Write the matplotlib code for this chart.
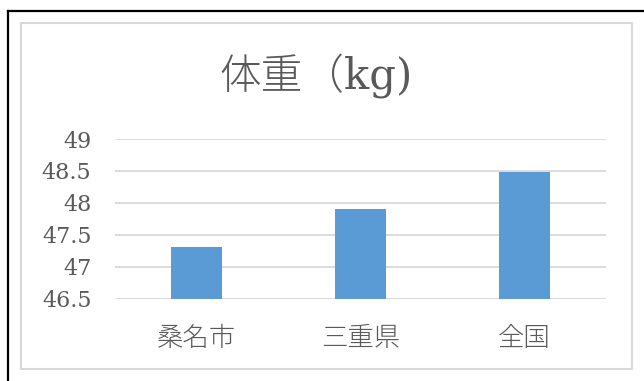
import matplotlib.pyplot as plt
from matplotlib.lines import Line2D
from matplotlib.patches import Rectangle

# Average body weight by region
regions = ["桑名市", "三重県", "全国"]
weights = [47.31, 47.9, 48.48]
y_ticks = [46.5, 47, 47.5, 48, 48.5, 49]

TEXT = "#595959"
GRID = "#D9D9D9"
BAR = "#5B9BD5"
FONTS = ["DejaVu Serif", "Noto Sans CJK JP", "DejaVu Sans"]

plt.rcParams["font.family"] = FONTS

W, H = 644, 381
fig = plt.figure(figsize=(W / 100, H / 100), dpi=100)
fig.patch.set_facecolor("white")

# sheet border (top and left only) and chart-area frame
fig.add_artist(Line2D([7.5 / W, 1.0], [1 - 11 / H, 1 - 11 / H],
                      color="black", lw=1.6, transform=fig.transFigure))
fig.add_artist(Line2D([7.5 / W, 7.5 / W], [0.0, 1 - 11 / H],
                      color="black", lw=1.6, transform=fig.transFigure))
fig.add_artist(Rectangle((21 / W, 1 - 369 / H), (632 - 21) / W, (369 - 23) / H,
                         fill=False, edgecolor=GRID, lw=1.5,
                         transform=fig.transFigure))

ax = fig.add_axes([115 / W, 1 - 298.5 / H, (606 - 115) / W, (298.5 - 139) / H])
x = range(len(regions))
ax.bar(x, [w - y_ticks[0] for w in weights], bottom=y_ticks[0],
       width=0.31, color=BAR, zorder=3)

ax.set_xlim(-0.5, len(regions) - 0.5)
ax.set_ylim(y_ticks[0], y_ticks[-1])
ax.set_yticks(y_ticks)
ax.set_yticklabels([f"{v:g}" for v in y_ticks])
ax.set_xticks(list(x))
ax.set_xticklabels(regions, fontweight="light")
ax.tick_params(axis="y", length=0, pad=17, labelsize=16, labelcolor=TEXT)
ax.tick_params(axis="x", length=0, pad=20, labelsize=19, labelcolor=TEXT)
ax.grid(axis="y", color=GRID, lw=1.3, zorder=0)
for s in ax.spines.values():
    s.set_visible(False)

fig.text(316 / W, 1 - 76 / H, "体重（kg)", ha="center", va="center",
         fontsize=30, color=TEXT, fontweight="light")

fig.savefig("out.png", dpi=100)
